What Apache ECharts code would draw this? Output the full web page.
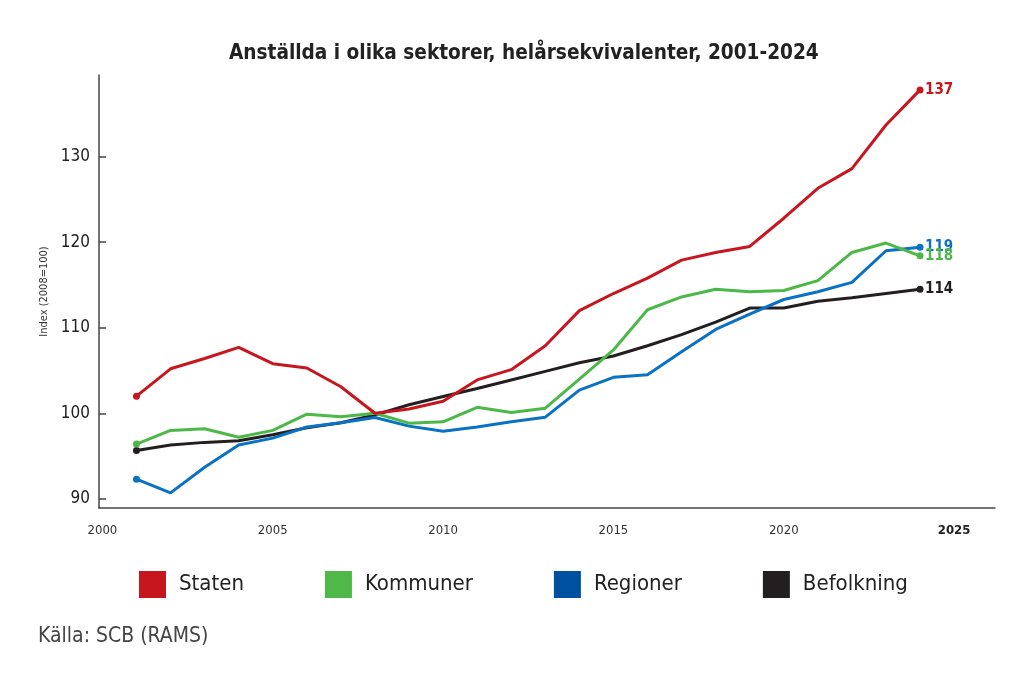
<!DOCTYPE html>
<html>
<head>
<meta charset="utf-8">
<script src="https://cdn.jsdelivr.net/npm/echarts@6/dist/echarts.min.js"></script>
<style>
html,body{margin:0;padding:0;background:#fff;}
#chart{width:1024px;height:684px;}
</style>
</head>
<body>
<div id="chart"></div>
<script>
var years = [2001,2002,2003,2004,2005,2006,2007,2008,2009,2010,2011,2012,2013,2014,2015,2016,2017,2018,2019,2020,2021,2022,2023,2024];
var staten     = [102.0,105.2,106.4,107.7,105.8,105.3,103.1,100.0,100.5,101.4,103.9,105.1,107.9,112.0,114.0,115.8,117.9,118.8,119.5,122.8,126.3,128.6,133.7,137.8];
var kommuner   = [96.4,98.0,98.2,97.2,98.0,99.9,99.6,100.0,98.85,99.0,100.7,100.1,100.6,104.0,107.4,112.1,113.6,114.5,114.2,114.35,115.5,118.8,119.9,118.4];
var regioner   = [92.3,90.7,93.7,96.3,97.1,98.4,98.9,99.5,98.5,97.9,98.4,99.0,99.55,102.7,104.2,104.5,107.2,109.8,111.6,113.3,114.2,115.3,119.0,119.4];
var befolkning = [95.65,96.3,96.6,96.8,97.5,98.3,98.9,99.8,101.0,101.96,102.9,103.9,104.9,105.9,106.7,107.9,109.2,110.65,112.3,112.3,113.1,113.5,114.0,114.5];
var seriesNames = ['Staten','Kommuner','Regioner','Befolkning'];
var endLabels = ['137','118','119','114'];
var yTicks = [90,100,110,120,130];
var xTicks = [2000,2005,2010,2015,2020,2025];

var lineColors = ['#c8161e','#4cb848','#0a72c4','#231f20'];
var legendColors = ['#c8161e','#50b848','#0050a2','#231f20'];
var FONT = '"DejaVu Sans Condensed","Liberation Sans Narrow",Roboto,sans-serif';

function pairs(arr){ return years.map(function(y,i){ return [y, arr[i]]; }); }
var allData = [staten, kommuner, regioner, befolkning];

var chart = echarts.init(document.getElementById('chart'));
var series = allData.map(function(arr, k){
  var n = arr.length;
  return {
    name: seriesNames[k],
    type: 'line',
    data: pairs(arr),
    showSymbol: true,
    showAllSymbol: true,
    symbol: 'circle',
    symbolSize: function(v, p){ return (p.dataIndex === 0 || p.dataIndex === n-1) ? 7 : 0; },
    lineStyle: {color: lineColors[k], width: 3},
    itemStyle: {color: lineColors[k]},
    z: 10 - k,
    animation: false,
    endLabel: {
      show: true,
      formatter: function(){ return endLabels[k]; },
      color: lineColors[k],
      fontFamily: FONT,
      fontWeight: 'bold',
      fontSize: 15,
      distance: 5
    }
  };
});

chart.setOption({
  animation: false,
  title: [{
    text: 'Anställda i olika sektorer, helårsekvivalenter, 2001-2024',
    left: 229, top: 43, padding: 0,
    textStyle: {fontFamily: FONT, fontSize: 20.6, fontWeight: 'bold', color: '#222'}
  },{
    text: 'Källa: SCB (RAMS)',
    left: 33, top: 621,
    textStyle: {fontFamily: FONT, fontSize: 21, fontWeight: 'normal', color: '#444'}
  }],
  legend: {
    data: seriesNames.map(function(n,k){ return {name: n, icon: 'rect', itemStyle: {color: legendColors[k]}}; }),
    left: 139, top: 571, padding: 0,
    itemWidth: 27, itemHeight: 27, itemGap: 81,
    textStyle: {fontFamily: FONT, fontSize: 22, color: '#222', padding: [0,0,0,8]}
  },
  grid: {left: 99, right: 29, top: 75, bottom: 176},
  xAxis: {
    type: 'value', min: 1999.9, max: 2026.2,
    axisLine: {show: true, lineStyle: {color: '#444', width: 1.5}},
    axisTick: {show: false},
    splitLine: {show: false},
    axisLabel: {
      customValues: xTicks,
      margin: 16,
      fontFamily: FONT, fontSize: 13, color: '#333',
      formatter: function(v){ return v === 2025 ? '{b|' + v + '}' : String(v); },
      rich: {b: {fontFamily: FONT, fontSize: 13, fontWeight: 'bold', color: '#222'}}
    }
  },
  yAxis: {
    type: 'value', min: 88.93, max: 139.54,
    name: 'Index (2008=100)',
    nameLocation: 'middle', nameGap: 48, nameRotate: 90,
    nameTextStyle: {fontFamily: FONT, fontSize: 11, color: '#333'},
    axisLine: {show: true, lineStyle: {color: '#444', width: 1.5}},
    axisTick: {show: true, inside: true, length: 7, customValues: yTicks, lineStyle: {color: '#444', width: 1.5}},
    splitLine: {show: false},
    axisLabel: {customValues: yTicks, margin: 9, fontFamily: FONT, fontSize: 17, color: '#222'}
  },
  series: series
});
</script>
</body>
</html>
